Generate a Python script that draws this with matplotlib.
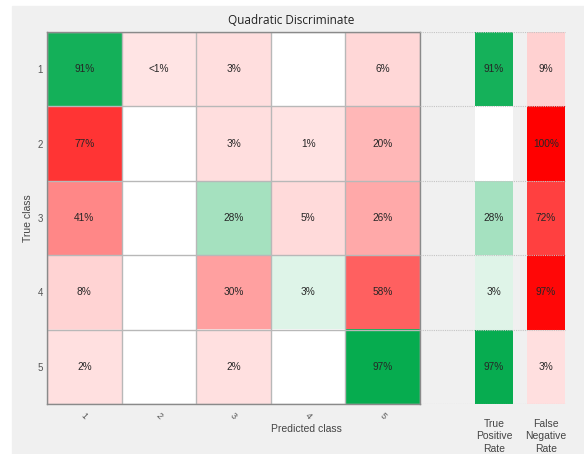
import matplotlib
matplotlib.use("Agg")
import matplotlib.pyplot as plt
import numpy as np
from matplotlib.patches import Rectangle

# confusion matrix in percent of each true class (0 = empty cell)
classes = ["1", "2", "3", "4", "5"]
row1 = [91, 0.5, 3, 0, 6]
row2 = [77, 0, 3, 1, 20]
row3 = [41, 0, 28, 5, 26]
row4 = [8, 0, 30, 3, 58]
row5 = [2, 0, 2, 0, 97]
tpr = [91, 0, 28, 3, 97]
fnr = [9, 100, 72, 97, 3]
summary_labels = ["True\nPositive\nRate", "False\nNegative\nRate"]

cm = np.array([row1, row2, row3, row4, row5], dtype=float)

GREEN = np.array([0, 170, 75]) / 255
RED = np.array([1.0, 0, 0])
BG = "#f0f0f0"


def shade(base, v):
    if v <= 0:
        return np.ones(3)
    a = 0.1 + 0.9 * v / 100
    return 1 - (1 - base) * a


def label(v):
    if v <= 0:
        return ""
    if v < 1:
        return "<1%"
    return "%d%%" % round(v)


W, H = 584, 454
fig = plt.figure(figsize=(W / 100, H / 100), dpi=100)
fig.patch.set_facecolor("white")
fig.patches.append(Rectangle((12 / W, 0), 1, 1 - 6 / H,
                             transform=fig.transFigure, color=BG, zorder=-10))

# main matrix -----------------------------------------------------------
ax = fig.add_axes([47 / W, 1 - 404 / H, 373 / W, 372 / H])
n = len(classes)
rgb = np.zeros((n, n, 3))
for i in range(n):
    for j in range(n):
        rgb[i, j] = shade(GREEN if i == j else RED, cm[i, j])
ax.imshow(rgb, extent=(0, n, n, 0), aspect="auto", interpolation="nearest")
for i in range(n):
    for j in range(n):
        ax.text(j + 0.5, i + 0.5, label(cm[i, j]), ha="center", va="center",
                fontsize=7.3, color="#262626", family="Liberation Sans")

ax.set_xlim(0, n)
ax.set_ylim(n, 0)
ax.set_xticks(np.arange(n) + 0.5)
ax.set_yticks(np.arange(n) + 0.5)
ax.set_xticks(np.arange(n + 1), minor=True)
ax.set_yticks(np.arange(n + 1), minor=True)
ax.grid(which="minor", color="#b8b8b8", lw=1)
ax.set_xticklabels(classes, rotation=-45, fontsize=6.5, color="#555555",
                   family="Liberation Sans")
ax.set_yticklabels(classes, fontsize=7, color="#555555",
                   family="Liberation Sans")
ax.tick_params(which="both", length=0, pad=5)
ax.tick_params(axis="y", pad=3)
for s in ax.spines.values():
    s.set_color("#8a8a8a")
    s.set_linewidth(1)

# summary columns -------------------------------------------------------
ax2 = fig.add_axes([420 / W, 1 - 404 / H, 150 / W, 372 / H])
ax2.set_facecolor("none")
ax2.set_xlim(-1.42, 1.46)
ax2.set_ylim(n, 0)
bw = 0.73
rows = np.arange(n)
ax2.hlines(np.arange(n + 1), -1.42, 1 + bw / 2, colors="#c4c4c4",
           linestyles=(0, (1, 1)), lw=0.8, zorder=3)
for k, (vals, base) in enumerate([(tpr, GREEN), (fnr, RED)]):
    ax2.bar(np.full(n, k), np.ones(n), bottom=rows, width=bw,
            color=[shade(base, v) for v in vals], zorder=2)
    for i, v in enumerate(vals):
        ax2.text(k, i + 0.5, label(v), ha="center", va="center",
                 fontsize=7.3, color="#262626", family="Liberation Sans",
                 zorder=4)
ax2.axis("off")

for k, s in enumerate(summary_labels):
    ax2.text(k, n + 0.2, s, ha="center", va="top", fontsize=7.5,
             color="#444444", family="Liberation Sans", linespacing=1.3)

# texts -----------------------------------------------------------------
fig.text(291 / W, 1 - 20 / H, "Quadratic Discriminate", ha="center",
         va="center", fontsize=8.5, color="#222222", family="Open Sans")
fig.text(306 / W, 1 - 429 / H, "Predicted class", ha="center", va="center",
         fontsize=7.5, color="#444444", family="Liberation Sans")
fig.text(28 / W, 1 - 218 / H, "True class", ha="center", va="center",
         rotation=90, fontsize=7.5, color="#444444", family="Liberation Sans")

fig.savefig("out.png", dpi=100, facecolor=fig.get_facecolor())
